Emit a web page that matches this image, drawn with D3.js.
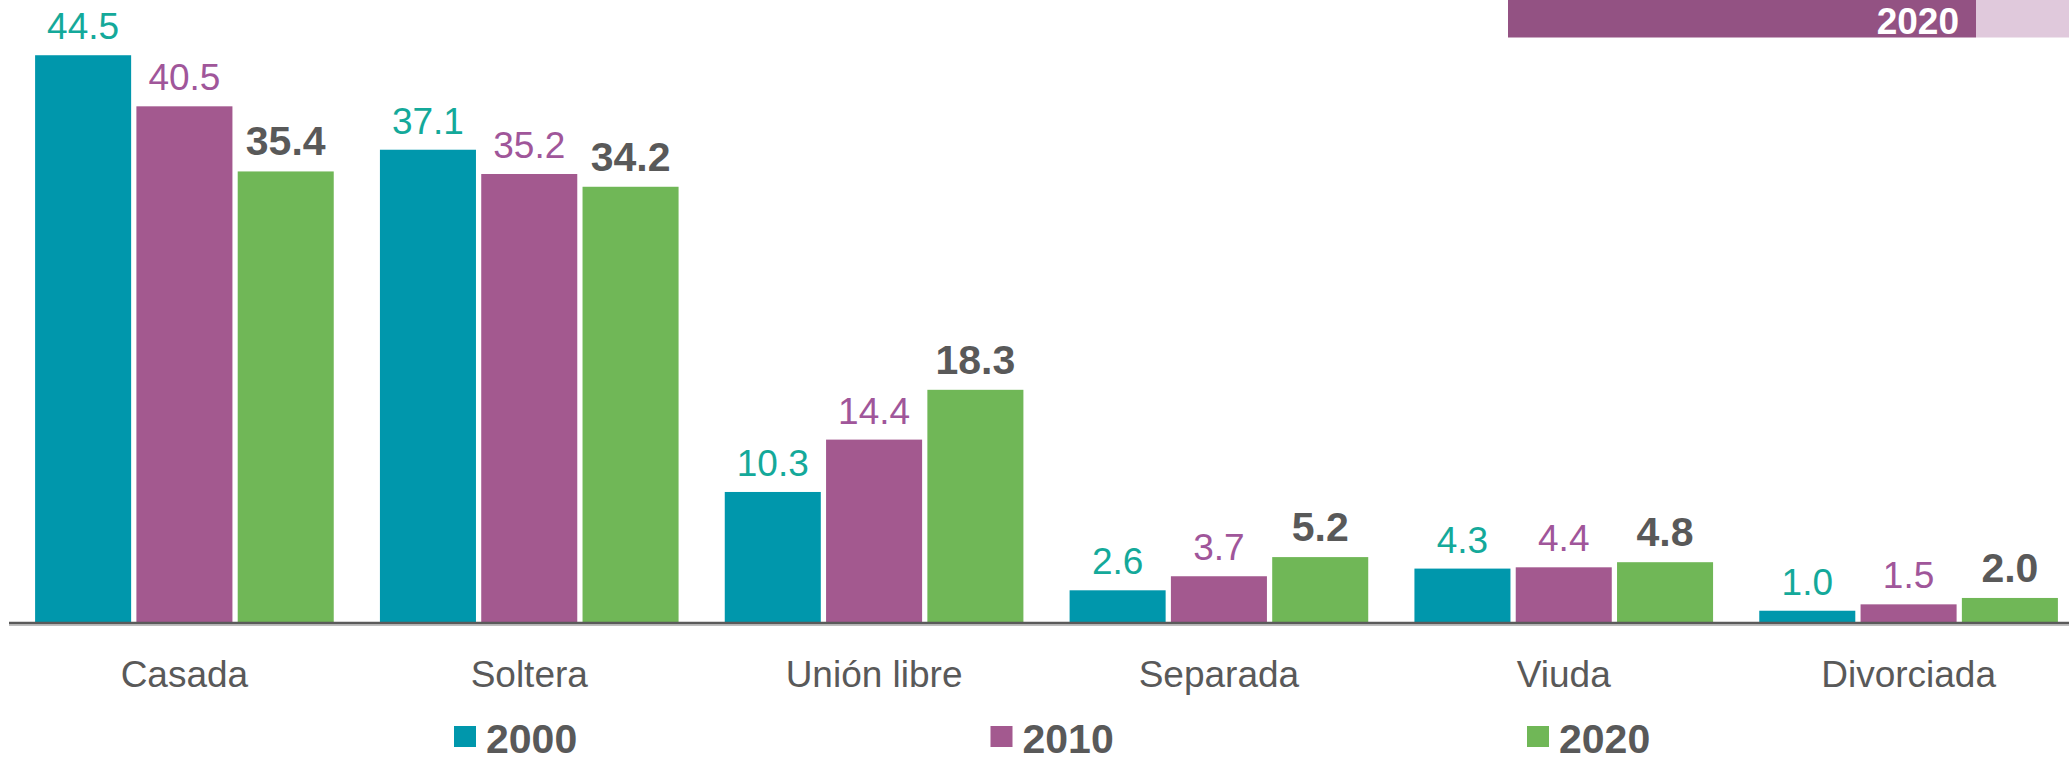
<!DOCTYPE html>
<html>
<head>
<meta charset="utf-8">
<script src="https://cdn.jsdelivr.net/npm/d3@7"></script>
<style>
  html, body { margin: 0; padding: 0; background: #ffffff; }
  svg { display: block; }
  text { font-family: "Liberation Sans", Arial, Helvetica, sans-serif; }
</style>
</head>
<body>
<svg id="chart" width="2069" height="762"></svg>
<script>
// Estado conyugal de la población, porcentajes por año censal
const categories = ["Casada", "Soltera", "Unión libre", "Separada", "Viuda", "Divorciada"];
const years = ["2000", "2010", "2020"];
const values2000 = [44.5, 37.1, 10.3, 2.6, 4.3, 1.0];
const values2010 = [40.5, 35.2, 14.4, 3.7, 4.4, 1.5];
const values2020 = [35.4, 34.2, 18.3, 5.2, 4.8, 2.0];
const bannerLabel = "2020";

const seriesValues = { "2000": values2000, "2010": values2010, "2020": values2020 };
const barColor = { "2000": "#0097ac", "2010": "#a3598f", "2020": "#70b757" };
const labelColor = { "2000": "#14a99a", "2010": "#a0569a", "2020": "#595959" };
const labelWeight = { "2000": "normal", "2010": "normal", "2020": "bold" };
const labelSize = { "2000": 37, "2010": 37, "2020": 41 };

const svg = d3.select("#chart");
const baseline = 623.5;

const x0 = d3.scaleBand().domain(categories).range([12, 2081]).padding(0);
const x1 = d3.scaleBand().domain(years).range([0, x0.bandwidth()])
  .paddingInner(0.052).paddingOuter(0.228);
const y = d3.scaleLinear().domain([0, 45]).range([baseline, baseline - 45 * 12.77]);

const rows = categories.map((c, i) => ({
  category: c,
  bars: years.map(yr => ({ year: yr, value: seriesValues[yr][i] }))
}));

// Banner strip at the top right
svg.append("rect").attr("x", 1508).attr("y", 0).attr("width", 468).attr("height", 37.5).attr("fill", "#935283");
svg.append("rect").attr("x", 1976).attr("y", 0).attr("width", 93).attr("height", 37.5).attr("fill", "#e0c9dc");
svg.append("text").attr("x", 1959).attr("y", 33.5).attr("text-anchor", "end")
  .attr("font-size", 37).attr("font-weight", "bold").attr("fill", "#ffffff").text(bannerLabel);

const groups = svg.append("g").selectAll("g").data(rows).join("g")
  .attr("transform", d => `translate(${x0(d.category)},0)`);

groups.selectAll("rect").data(d => d.bars).join("rect")
  .attr("x", d => x1(d.year))
  .attr("y", d => y(d.value))
  .attr("width", x1.bandwidth())
  .attr("height", d => y(0) - y(d.value))
  .attr("fill", d => barColor[d.year]);

groups.selectAll("text.value").data(d => d.bars).join("text")
  .attr("class", "value")
  .attr("x", d => x1(d.year) + x1.bandwidth() / 2)
  .attr("y", d => y(d.value) - 16)
  .attr("text-anchor", "middle")
  .attr("font-size", d => labelSize[d.year])
  .attr("font-weight", d => labelWeight[d.year])
  .attr("fill", d => labelColor[d.year])
  .text(d => d.value.toFixed(1));

// Category axis
const axis = svg.append("g").attr("transform", `translate(0,${baseline})`)
  .call(d3.axisBottom(x0).tickSize(0).tickPadding(0));
axis.select(".domain").remove();
axis.selectAll(".tick text")
  .attr("y", 686.5 - baseline).attr("dy", null)
  .attr("font-family", "Liberation Sans, Arial, sans-serif")
  .attr("font-size", 37).attr("fill", "#595959");

svg.append("line").attr("x1", 9).attr("x2", 2069).attr("y1", 623).attr("y2", 623)
  .attr("stroke", "#5a5a5a").attr("stroke-width", 2.6);
svg.append("line").attr("x1", 9).attr("x2", 2069).attr("y1", 625).attr("y2", 625)
  .attr("stroke", "#a8a8a8").attr("stroke-width", 1.6);

// Legend
const lx = d3.scalePoint().domain(years).range([454, 1527]);
const legend = svg.append("g").selectAll("g").data(years).join("g")
  .attr("transform", d => `translate(${lx(d)},0)`);
legend.append("rect").attr("x", 0).attr("y", 726).attr("width", 22).attr("height", 21)
  .attr("fill", d => barColor[d]);
legend.append("text").attr("x", 32).attr("y", 753)
  .attr("font-size", 41).attr("font-weight", "bold").attr("fill", "#595959")
  .text(d => d);
</script>
</body>
</html>
